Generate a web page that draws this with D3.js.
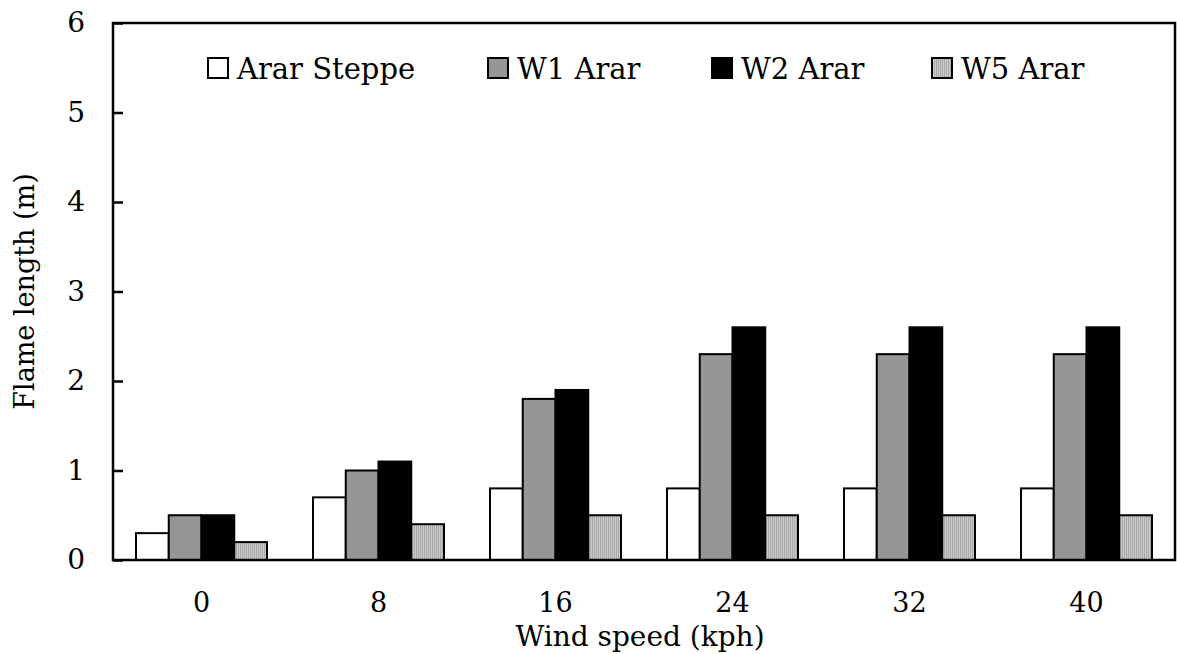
<!DOCTYPE html>
<html lang="en">
  <head>
    <meta charset="UTF-8" />
    <title>Flame length</title>
    <script src="https://d3js.org/d3.v7.min.js"></script>
    <style>
      body { margin: 0; background: #fff; }
      text { font-family: "DejaVu Serif", serif; fill: #000; }
    </style>
  </head>
  <body>
    <svg width="1177" height="654"></svg>
    <script>
      // data
      var windSpeeds = ["0", "8", "16", "24", "32", "40"];
      var seriesNames = ["Arar Steppe", "W1 Arar", "W2 Arar", "W5 Arar"];
      var ararSteppe = [0.3, 0.7, 0.8, 0.8, 0.8, 0.8];
      var w1Arar = [0.5, 1.0, 1.8, 2.3, 2.3, 2.3];
      var w2Arar = [0.5, 1.1, 1.9, 2.6, 2.6, 2.6];
      var w5Arar = [0.2, 0.4, 0.5, 0.5, 0.5, 0.5];
      var yTicks = [0, 1, 2, 3, 4, 5, 6];

      var seriesValues = [ararSteppe, w1Arar, w2Arar, w5Arar];
      var fills = ["#ffffff", "#969696", "#000000", "url(#dots)"];

      var svg = d3.select("svg");
      var m = { left: 113, right: 1175, top: 23, bottom: 560 };

      // fine pattern for W5
      var pat = svg.append("defs").append("pattern")
        .attr("id", "dots")
        .attr("patternUnits", "userSpaceOnUse")
        .attr("width", 2).attr("height", 2);
      pat.append("rect").attr("width", 2).attr("height", 2).attr("fill", "#cbcbcb");
      pat.append("rect").attr("width", 1).attr("height", 2).attr("fill", "#a9a9a9");

      var x = d3.scaleBand().domain(windSpeeds).range([m.left, m.right])
        .paddingInner(0.26).paddingOuter(0.13);
      var xs = d3.scaleBand().domain(seriesNames).range([0, x.bandwidth()]);
      var y = d3.scaleLinear().domain([0, 6]).range([m.bottom, m.top]);

      // bars
      seriesNames.forEach(function (name, si) {
        svg.append("g").selectAll("rect")
          .data(seriesValues[si])
          .enter()
          .append("rect")
          .attr("x", function (d, i) { return x(windSpeeds[i]) + xs(name); })
          .attr("y", function (d) { return y(d); })
          .attr("width", xs.bandwidth())
          .attr("height", function (d) { return y(0) - y(d); })
          .attr("fill", fills[si])
          .attr("stroke", "#000")
          .attr("stroke-width", 2);
      });

      // frame
      svg.append("rect")
        .attr("x", m.left).attr("y", m.top)
        .attr("width", m.right - m.left).attr("height", m.bottom - m.top)
        .attr("fill", "none").attr("stroke", "#000").attr("stroke-width", 2.5);

      // y axis
      var yAxis = svg.append("g")
        .attr("transform", "translate(" + m.left + ",0)")
        .call(d3.axisLeft(y).tickValues(yTicks).tickFormat(d3.format("d"))
          .tickSizeInner(-10).tickSizeOuter(0).tickPadding(28));
      yAxis.select(".domain").remove();
      yAxis.selectAll("line").attr("stroke-width", 2.5);
      yAxis.selectAll("text").attr("font-size", "28px")
        .attr("font-family", "DejaVu Serif, serif");

      // x axis
      var xAxis = svg.append("g")
        .attr("transform", "translate(0," + m.bottom + ")")
        .call(d3.axisBottom(x).tickSize(0).tickPadding(33));
      xAxis.select(".domain").remove();
      xAxis.selectAll("text").attr("font-size", "27px")
        .attr("font-family", "DejaVu Serif, serif");

      svg.append("text")
        .attr("x", (m.left + m.right) / 2 - 4)
        .attr("y", 646)
        .attr("text-anchor", "middle")
        .attr("font-size", "28px")
        .text("Wind speed (kph)");

      svg.append("text")
        .attr("transform", "translate(34," + (m.top + m.bottom) / 2 + ") rotate(-90)")
        .attr("text-anchor", "middle")
        .attr("font-size", "27px")
        .text("Flame length (m)");

      // legend
      var legendX = [208, 488, 712, 932];
      var legend = svg.append("g").selectAll("g")
        .data(seriesNames)
        .enter()
        .append("g")
        .attr("transform", function (d, i) { return "translate(" + legendX[i] + ",58)"; });
      legend.append("rect")
        .attr("width", 20).attr("height", 20)
        .attr("fill", function (d, i) { return fills[i]; })
        .attr("stroke", "#000").attr("stroke-width", 2);
      legend.append("text")
        .attr("x", 29).attr("y", 21)
        .attr("font-size", "29px")
        .text(function (d) { return d; });
    </script>
  </body>
</html>
